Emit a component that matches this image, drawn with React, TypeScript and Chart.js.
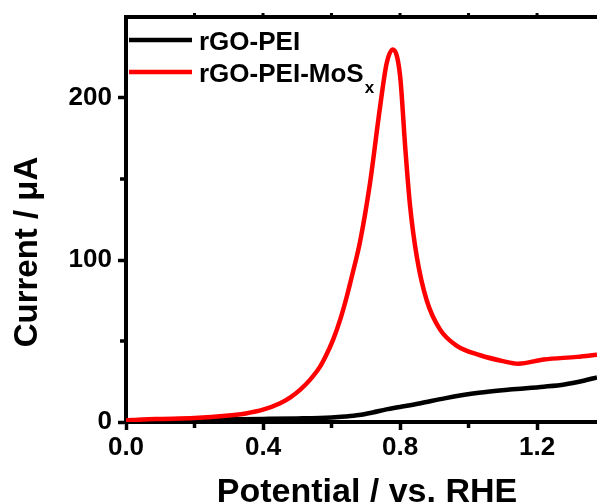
import React, { useEffect, useRef } from "react";
import { Chart, registerables } from "chart.js";

Chart.register(...registerables);

const FONT = '"Liberation Sans", Arial, Helvetica, sans-serif';

// rGO-PEI-MoSx (red)
const potentialRed = [0.0, 0.05, 0.1, 0.2, 0.3, 0.35, 0.4, 0.45, 0.48, 0.508, 0.537, 0.566, 0.585, 0.605, 0.625, 0.644, 0.663, 0.683, 0.712, 0.742, 0.761, 0.779, 0.8, 0.815, 0.829, 0.849, 0.878, 0.917, 0.966, 1.034, 1.1, 1.145, 1.22, 1.317, 1.375];
const currentRed = [1.0, 1.6, 1.9, 2.4, 4.0, 5.3, 7.6, 11.6, 15.2, 19.8, 26.0, 34, 41.5, 51, 63, 77, 93, 111, 147, 195, 221.5, 230, 214, 170, 134, 102, 75, 57, 47, 41.2, 37.6, 36, 38.6, 40.2, 41.5];

// rGO-PEI (black)
const potentialBlack = [0.0, 0.1, 0.2, 0.3, 0.4, 0.5, 0.6, 0.64, 0.68, 0.72, 0.76, 0.8, 0.86, 0.93, 1.03, 1.12, 1.22, 1.28, 1.336, 1.375];
const currentBlack = [1.0, 1.3, 1.5, 1.7, 1.9, 2.2, 2.8, 3.4, 4.3, 5.9, 7.8, 9.3, 11.6, 14.6, 18.0, 20.0, 21.8, 23.2, 25.5, 27.5];

const xMajorTicks = [0, 0.4, 0.8, 1.2];
const xMinorTicks = [0.2, 0.6, 1.0];
const yMinorTicks = [50, 150];
const topTicks = [0.2, 0.4, 0.6, 0.8, 1.0, 1.2];

const seriesNames = ["rGO-PEI", "rGO-PEI-MoS"];
const seriesSubscripts = ["", "x"];
const seriesColors = ["#000000", "#ff0000"];

const xTitle = "Potential / vs. RHE";
const yTitle = "Current / \u03bcA";

export default function App() {
  const ref = useRef<HTMLCanvasElement>(null);

  useEffect(() => {
    if (!ref.current) return;

    const decor = {
      id: "decor",
      afterDraw(chart: any) {
        const ctx = chart.ctx as CanvasRenderingContext2D;
        const area = chart.chartArea;
        const xs = chart.scales.x;
        const ys = chart.scales.y;
        ctx.save();
        ctx.strokeStyle = "#000";
        ctx.lineCap = "butt";

        // top frame line
        ctx.lineWidth = 4;
        ctx.beginPath();
        ctx.moveTo(area.left - 2, area.top);
        ctx.lineTo(area.right, area.top);
        ctx.stroke();

        // top small ticks
        ctx.lineWidth = 3;
        topTicks.forEach((v) => {
          const px = xs.getPixelForValue(v);
          ctx.beginPath();
          ctx.moveTo(px, area.top);
          ctx.lineTo(px, area.top - 4);
          ctx.stroke();
        });

        // minor ticks
        ctx.lineWidth = 3.5;
        xMinorTicks.forEach((v) => {
          const px = xs.getPixelForValue(v);
          ctx.beginPath();
          ctx.moveTo(px, area.bottom);
          ctx.lineTo(px, area.bottom + 6);
          ctx.stroke();
        });
        yMinorTicks.forEach((v) => {
          const py = ys.getPixelForValue(v);
          ctx.beginPath();
          ctx.moveTo(area.left, py);
          ctx.lineTo(area.left - 6, py);
          ctx.stroke();
        });

        // legend
        const legendY = [40, 72];
        seriesNames.forEach((name, i) => {
          ctx.strokeStyle = seriesColors[i];
          ctx.lineWidth = 4.5;
          ctx.beginPath();
          ctx.moveTo(129, legendY[i]);
          ctx.lineTo(192, legendY[i]);
          ctx.stroke();
          ctx.fillStyle = "#000";
          ctx.font = `bold 26px ${FONT}`;
          ctx.textAlign = "left";
          ctx.textBaseline = "alphabetic";
          const base = legendY[i] + 10;
          ctx.fillText(name, 199, base);
          if (seriesSubscripts[i]) {
            const w = ctx.measureText(name).width;
            ctx.font = `bold 17px ${FONT}`;
            ctx.fillText(seriesSubscripts[i], 199 + w + 1, base + 11);
          }
        });

        // axis titles
        ctx.fillStyle = "#000";
        ctx.font = `bold 34px ${FONT}`;
        ctx.textAlign = "center";
        ctx.textBaseline = "alphabetic";
        ctx.fillText(xTitle, 367, 502);

        ctx.save();
        ctx.translate(37, 252);
        ctx.rotate(-Math.PI / 2);
        ctx.font = `bold 33px ${FONT}`;
        ctx.fillText(yTitle, 0, 0);
        ctx.restore();

        ctx.restore();
      },
    };

    const tickFont = { family: FONT, size: 26, weight: "bold" as const };

    const chart = new Chart(ref.current, {
      type: "line",
      data: {
        datasets: [
          {
            label: seriesNames[0],
            data: potentialBlack.map((x, i) => ({ x, y: currentBlack[i] })),
            borderColor: seriesColors[0],
            borderWidth: 4.5,
            pointRadius: 0,
            cubicInterpolationMode: "monotone",
            order: 1,
          },
          {
            label: seriesNames[1] + seriesSubscripts[1],
            data: potentialRed.map((x, i) => ({ x, y: currentRed[i] })),
            borderColor: seriesColors[1],
            borderWidth: 4.5,
            pointRadius: 0,
            cubicInterpolationMode: "monotone",
            order: 0,
          },
        ],
      },
      options: {
        responsive: false,
        animation: false,
        devicePixelRatio: 1,
        layout: { padding: { top: 17, left: 0, right: 0, bottom: 0 } },
        plugins: {
          legend: { display: false },
          tooltip: { enabled: false },
          title: { display: false },
        },
        scales: {
          x: {
            type: "linear",
            min: 0,
            max: 1.375,
            afterFit: (s: any) => {
              s.height = 80;
              s.paddingLeft = 0;
              s.paddingRight = 0;
            },
            afterBuildTicks: (s: any) => {
              s.ticks = xMajorTicks.map((v) => ({ value: v }));
            },
            ticks: {
              includeBounds: false,
              color: "#000",
              font: tickFont,
              padding: 2,
              maxRotation: 0,
              callback: (v: any) => Number(v).toFixed(1),
            },
            grid: {
              display: true,
              drawOnChartArea: false,
              drawTicks: true,
              tickLength: 8,
              tickWidth: 3.5,
              tickColor: "#000",
              color: "#000",
            },
            border: { display: true, color: "#000", width: 4 },
          },
          y: {
            type: "linear",
            min: 0,
            max: 250,
            afterFit: (s: any) => {
              s.width = 126;
              s.paddingTop = 0;
              s.paddingBottom = 0;
            },
            ticks: {
              includeBounds: false,
              stepSize: 100,
              color: "#000",
              font: tickFont,
              padding: 6,
              callback: (v: any) => String(v),
            },
            grid: {
              display: true,
              drawOnChartArea: false,
              drawTicks: true,
              tickLength: 8,
              tickWidth: 3.5,
              tickColor: "#000",
              color: "#000",
            },
            border: { display: true, color: "#000", width: 4 },
          },
        },
      },
      plugins: [decor],
    });

    return () => chart.destroy();
  }, []);

  return (
    <div style={{ position: "fixed", left: 0, top: 0, width: 597, height: 502, background: "#fff" }}>
      <canvas ref={ref} width={597} height={502} style={{ width: 597, height: 502, display: "block" }} />
    </div>
  );
}
